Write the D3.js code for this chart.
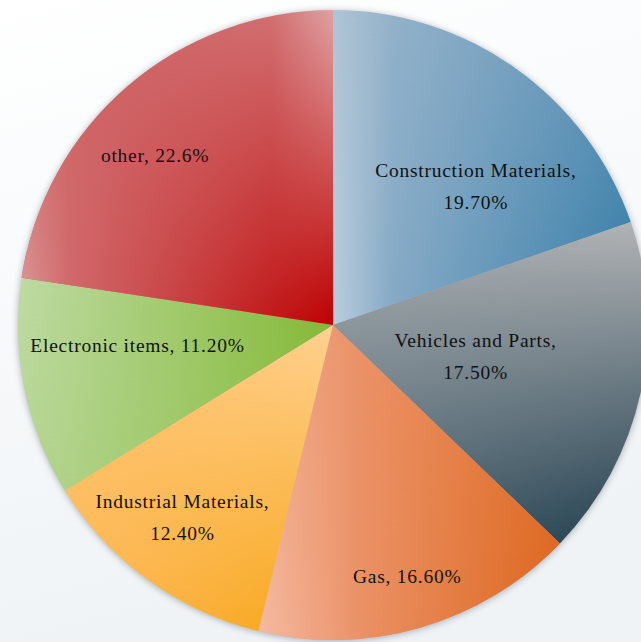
<!DOCTYPE html>
<html>
<head>
<meta charset="utf-8">
<script src="https://cdn.jsdelivr.net/npm/d3@7"></script>
<style>
  html, body { margin: 0; padding: 0; background: #ffffff; }
  svg { display: block; }
</style>
</head>
<body>
<script>
// Export shares by product group (percent)
const categories = ["Construction Materials", "Vehicles and Parts", "Gas",
                    "Industrial Materials", "Electronic items", "other"];
const shares = [19.7, 17.5, 16.6, 12.4, 11.2, 22.6];
const shareDecimals = [2, 2, 2, 2, 2, 1];
const splitLabel = [true, true, false, true, false, false];

// Shading per slice: top row and bottom row colour stops across the slice's box
const shadeTop = [
  [[0, "#b0c5d6"], [0.2, "#93b2ca"], [1, "#6496b9"]],
  [[0, "#a9aeb1"], [1, "#b2b4b6"]],
  [[0, "#f0aa8a"], [0.35, "#eb9166"], [1, "#e27230"]],
  [[0, "#ffc572"], [1, "#ffd292"]],
  [[0, "#bfdba4"], [1, "#83b935"]],
  [[0, "#cf6466"], [0.8, "#d27072"], [1, "#e0a2a4"]]
];
const shadeBottom = [
  [[0, "#bacddd"], [0.2, "#84a9c5"], [1, "#327ba6"]],
  [[0, "#4f6470"], [1, "#1f3d4d"]],
  [[0, "#f4baa2"], [0.35, "#ea9064"], [1, "#dc661c"]],
  [[0, "#fdb858"], [1, "#f7a412"]],
  [[0, "#b5d592"], [1, "#8abc42"]],
  [[0, "#dc9a9a"], [0.15, "#d06a6c"], [1, "#bd0000"]]
];

// Label placement: fraction of the radius and angular nudge (degrees) from the slice middle
const labelRadius = [0.631, 0.464, 0.834, 0.778, 0.624, 0.78];
const labelNudge = [10.5, 0.2, -0.2, 1.9, 5.5, -5.7];

const W = 641, H = 642;
const cx = 333, cy = 325, R = 315;

const svg = d3.select("body").append("svg")
  .attr("width", W).attr("height", H);
const defs = svg.append("defs");

// page background
const bg = defs.append("linearGradient").attr("id", "bg")
  .attr("x1", 0).attr("y1", 0).attr("x2", 0.25).attr("y2", 1);
bg.append("stop").attr("offset", 0).attr("stop-color", "#ffffff");
bg.append("stop").attr("offset", 1).attr("stop-color", "#eff3f6");
svg.append("rect").attr("width", W).attr("height", H).attr("fill", "url(#bg)");

// soft shadow under the disc
const blur = defs.append("filter").attr("id", "soft")
  .attr("x", -0.1).attr("y", -0.1).attr("width", 1.2).attr("height", 1.2);
blur.append("feGaussianBlur").attr("stdDeviation", 3.5);

// vertical mask used to blend the bottom row over the top row
const vmask = defs.append("linearGradient").attr("id", "vfade")
  .attr("x1", 0).attr("y1", 0).attr("x2", 0).attr("y2", 1);
vmask.append("stop").attr("offset", 0).attr("stop-color", "#000");
vmask.append("stop").attr("offset", 1).attr("stop-color", "#fff");
defs.append("mask").attr("id", "rowBlend")
  .attr("maskContentUnits", "objectBoundingBox")
  .append("rect").attr("width", 1).attr("height", 1).attr("fill", "url(#vfade)");

function addRow(id, stops) {
  const g = defs.append("linearGradient").attr("id", id)
    .attr("x1", 0).attr("y1", 0).attr("x2", 1).attr("y2", 0);
  stops.forEach(s => g.append("stop").attr("offset", s[0]).attr("stop-color", s[1]));
}
shares.forEach((_, i) => {
  addRow("top" + i, shadeTop[i]);
  addRow("bot" + i, shadeBottom[i]);
});

const root = svg.append("g").attr("transform", `translate(${cx},${cy})`);

root.append("circle").attr("r", R).attr("cy", 1)
  .attr("fill", "#4a5560").attr("opacity", 0.45).attr("filter", "url(#soft)");

const pie = d3.pie().sort(null).value(d => d).startAngle(0).endAngle(2 * Math.PI);
const arc = d3.arc().innerRadius(0).outerRadius(R);
const arcs = pie(shares);

const slices = root.selectAll("g.slice").data(arcs).join("g").attr("class", "slice");
slices.append("path").attr("d", arc).attr("fill", (d, i) => `url(#top${i})`);
slices.append("path").attr("d", arc).attr("fill", (d, i) => `url(#bot${i})`)
  .attr("mask", "url(#rowBlend)");

// labels
const lineGap = 32;
root.selectAll("text.lbl").data(arcs).join("text")
  .attr("class", "lbl")
  .attr("font-family", "'Liberation Serif', 'Times New Roman', serif")
  .attr("font-size", 19.5)
  .attr("letter-spacing", 0.75)
  .attr("fill", "#111")
  .attr("text-anchor", "middle")
  .each(function (d, i) {
    const a = (d.startAngle + d.endAngle) / 2 + labelNudge[i] * Math.PI / 180;
    const rr = labelRadius[i] * R;
    const x = rr * Math.sin(a), y = -rr * Math.cos(a);
    const pct = shares[i].toFixed(shareDecimals[i]) + "%";
    const lines = splitLabel[i] ? [categories[i] + ",", pct] : [categories[i] + ", " + pct];
    const t = d3.select(this);
    lines.forEach((ln, k) => {
      t.append("tspan").attr("x", x)
        .attr("y", y + (k - (lines.length - 1) / 2) * lineGap + 6)
        .text(ln);
    });
  });
</script>
</body>
</html>
